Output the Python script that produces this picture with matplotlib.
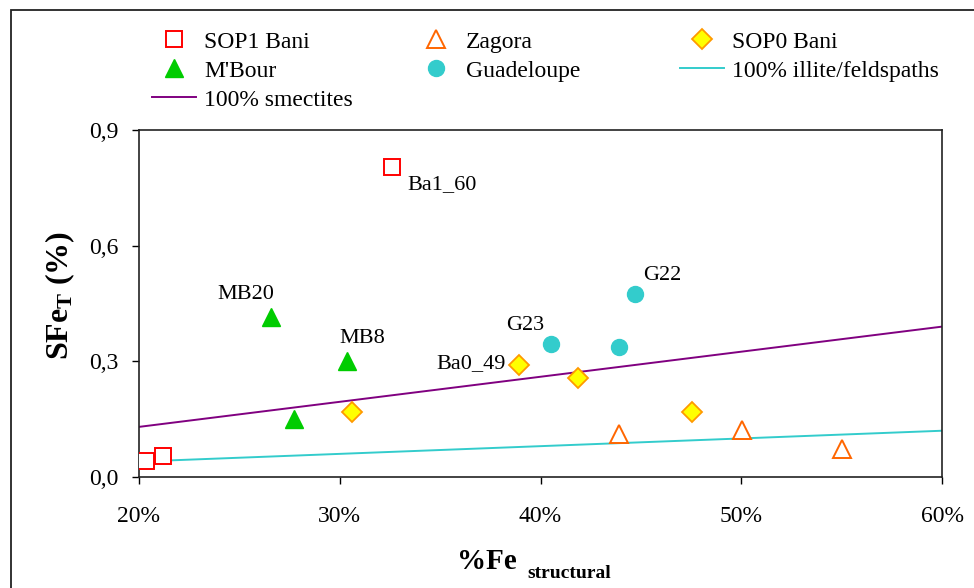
import matplotlib
matplotlib.use("Agg")
import matplotlib.pyplot as plt
from matplotlib.patches import Rectangle

plt.rcParams['font.family'] = ['Liberation Serif', 'DejaVu Serif']
plt.rcParams['mathtext.fontset'] = 'custom'
plt.rcParams['mathtext.rm'] = 'Liberation Serif'
plt.rcParams['mathtext.bf'] = 'Liberation Serif:bold'
plt.rcParams['mathtext.it'] = 'Liberation Serif:italic'

# ---- data (x = % Fe structural as fraction, y = SFeT) ----
sop1_x = [0.3260, 0.2035, 0.2120]
sop1_y = [0.805, 0.042, 0.055]
sop1_lbl = ["Ba1_60", "", ""]

zagora_x = [0.4390, 0.5005, 0.5500]
zagora_y = [0.112, 0.122, 0.073]

sop0_x = [0.3060, 0.3895, 0.4185, 0.4756]
sop0_y = [0.168, 0.291, 0.257, 0.168]
sop0_lbl = ["", "Ba0_49", "", ""]

mbour_x = [0.2660, 0.3035, 0.2770]
mbour_y = [0.415, 0.300, 0.150]
mbour_lbl = ["MB20", "MB8", ""]

guad_x = [0.4050, 0.4390, 0.4470]
guad_y = [0.345, 0.337, 0.475]
guad_lbl = ["G23", "", "G22"]

line_x = [0.20, 0.60]
smect_y = [0.13, 0.39]
illite_y = [0.04, 0.12]

x_ticks = [0.2, 0.3, 0.4, 0.5, 0.6]
x_ticklabels = ["20%", "30%", "40%", "50%", "60%"]
y_ticks = [0.0, 0.3, 0.6, 0.9]
y_ticklabels = ["0,0", "0,3", "0,6", "0,9"]

W, H = 974, 588
fig = plt.figure(figsize=(W / 100, H / 100), dpi=100)
ax = fig.add_axes([139 / W, 1 - 477 / H, (942 - 139) / W, (477 - 130) / H])

# figure border
fig.patches.append(Rectangle((11 / W, -0.05), 1.2, 1 - 10 / H + 0.05,
                             transform=fig.transFigure, fill=False,
                             edgecolor='#222222', linewidth=1.3, zorder=0))

ill_line, = ax.plot(line_x, illite_y, color='#33CCCC', lw=1.4, zorder=2,
                    label="100% illite/feldspaths")
sm_line, = ax.plot(line_x, smect_y, color='#800080', lw=1.4, zorder=2,
                   label="100% smectites")

h_sop1, = ax.plot(sop1_x, sop1_y, ls='none', marker='s', ms=11, mfc='white',
                  mec='#FF0000', mew=1.4, zorder=3, label="SOP1 Bani")
h_zag, = ax.plot(zagora_x, zagora_y, ls='none', marker='^', ms=13, mfc='white',
                 mec='#FF6600', mew=1.4, zorder=3, label="Zagora")
h_sop0, = ax.plot(sop0_x, sop0_y, ls='none', marker='D', ms=10, mfc='#FFFF00',
                  mec='#FF9900', mew=1.3, zorder=3, label="SOP0 Bani")
h_mb, = ax.plot(mbour_x, mbour_y, ls='none', marker='^', ms=13, mfc='#00CC00',
                mec='#00CC00', mew=1.0, zorder=3, label="M'Bour")
h_gu, = ax.plot(guad_x, guad_y, ls='none', marker='o', ms=11.5, mfc='#33CCCC',
                mec='#33CCCC', mew=1.0, zorder=3, label="Guadeloupe")

ann_fs = 16
def annotate(xs, ys, labels, offsets, has):
    for x, y, t, off, ha in zip(xs, ys, labels, offsets, has):
        if t:
            ax.annotate(t, (x, y), xytext=off, textcoords='offset points',
                        ha=ha, va='center', fontsize=ann_fs)

annotate(sop1_x, sop1_y, sop1_lbl, [(11, -13), (0, 0), (0, 0)], ['left', 'left', 'left'])
annotate(mbour_x, mbour_y, mbour_lbl, [(-18.5, 16.5), (11.5, 16.5), (0, 0)], ['center', 'center', 'center'])
annotate(sop0_x, sop0_y, sop0_lbl, [(0, 0), (-9.5, 0.7), (0, 0), (0, 0)], ['left', 'right', 'left', 'left'])
annotate(guad_x, guad_y, guad_lbl, [(-18.5, 13), (0, 0), (19.5, 13)], ['center', 'center', 'center'])

ax.set_xlim(0.2, 0.6)
ax.set_ylim(0.0, 0.9)
ax.set_xticks(x_ticks)
ax.set_xticklabels(x_ticklabels, fontsize=17)
ax.set_yticks(y_ticks)
ax.set_yticklabels(y_ticklabels, fontsize=17)
ax.tick_params(axis='x', direction='out', length=5, width=1, pad=16)
ax.tick_params(axis='y', direction='out', length=5, width=1, pad=10)
for s in ax.spines.values():
    s.set_linewidth(1.2)
    s.set_color('#222222')

ax.set_ylabel(r'$\mathbf{SFe_{T}\ (\%)}$', fontsize=23, va='center', ha='center')
ax.yaxis.set_label_coords(-0.098, 0.524)

fig.text(457 / W, 1 - 569 / H, "%Fe", fontsize=21, fontweight='bold',
         ha='left', va='baseline')
fig.text(527 / W, 1 - 578 / H, "structural", fontsize=14, fontweight='bold',
         ha='left', va='baseline')

leg_kw = dict(loc='upper left', frameon=False, fontsize=17, borderpad=0,
              handlelength=1.86, handletextpad=0.34, labelspacing=0.32,
              borderaxespad=0, numpoints=1)
top = 1 - 31 / H
l1 = fig.legend(handles=[h_sop1, h_mb, sm_line], bbox_to_anchor=(152 / W, top), **leg_kw)
l2 = fig.legend(handles=[h_zag, h_gu], bbox_to_anchor=(414 / W, top), **leg_kw)
l3 = fig.legend(handles=[h_sop0, ill_line], bbox_to_anchor=(680 / W, top), **leg_kw)

fig.savefig("out.png", dpi=100)
